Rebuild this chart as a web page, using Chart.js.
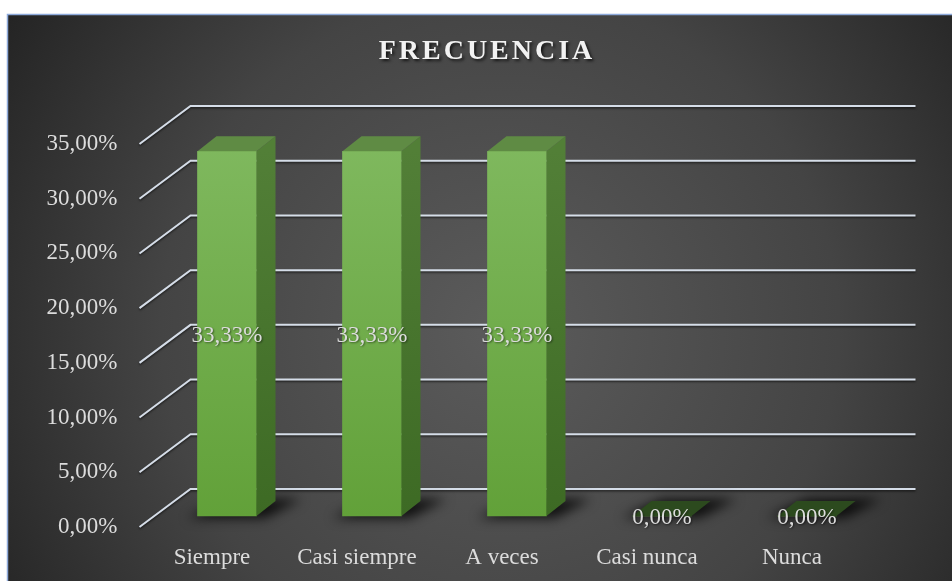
<!DOCTYPE html>
<html>
<head>
<meta charset="utf-8">
<script src="https://cdn.jsdelivr.net/npm/chart.js@4"></script>
<style>
  html, body { margin: 0; padding: 0; background: #ffffff; }
  #wrap { width: 952px; height: 581px; position: relative; }
</style>
</head>
<body>
<div id="wrap"><canvas id="c" width="952" height="581"></canvas></div>
<script>
const chartTitle = 'FRECUENCIA';
const categories = ['Siempre', 'Casi siempre', 'A veces', 'Casi nunca', 'Nunca'];
const frecuencia = [0.3333, 0.3333, 0.3333, 0, 0];
const dataLabels = ['33,33%', '33,33%', '33,33%', '0,00%', '0,00%'];
const tickLabels = ['0,00%', '5,00%', '10,00%', '15,00%', '20,00%', '25,00%', '30,00%', '35,00%'];

// 3D projection (style)
const WALL_DX = 51, WALL_DY = -38;   // front plane -> back wall
const BAR_SX = 15, BAR_SY = -11;     // front plane -> bar front face
const BAR_DX = 19, BAR_DY = -15;     // bar depth
const FONT = '"Liberation Serif", "Times New Roman", serif';

const bg3d = {
  id: 'bg3d',
  beforeDraw(chart) {
    const ctx = chart.ctx;
    ctx.save();
    ctx.fillStyle = '#ffffff';
    ctx.fillRect(0, 0, chart.width, chart.height);
    const g = ctx.createRadialGradient(500, 330, 20, 500, 330, 600);
    g.addColorStop(0, '#5a5a5a');
    g.addColorStop(0.55, '#444444');
    g.addColorStop(1, '#222222');
    ctx.fillStyle = g;
    ctx.fillRect(7, 14, chart.width - 7, chart.height - 14);
    ctx.strokeStyle = '#8eaadb';
    ctx.lineWidth = 1.5;
    ctx.beginPath();
    ctx.moveTo(7.5, chart.height);
    ctx.lineTo(7.5, 14.5);
    ctx.lineTo(chart.width, 14.5);
    ctx.stroke();
    ctx.restore();
  },
  beforeDatasetsDraw(chart) {
    const ctx = chart.ctx;
    const ys = chart.scales.y;
    const ca = chart.chartArea;
    ctx.save();
    ctx.strokeStyle = '#d5dde8';
    ctx.lineWidth = 2;
    ctx.shadowColor = 'rgba(0,0,0,0.55)';
    ctx.shadowOffsetY = 1.5;
    ctx.shadowBlur = 2;
    ys.ticks.forEach(t => {
      const y = ys.getPixelForValue(t.value);
      ctx.beginPath();
      ctx.moveTo(ca.left, y);
      ctx.lineTo(ca.left + WALL_DX, y + WALL_DY);
      ctx.lineTo(ca.right + WALL_DX, y + WALL_DY);
      ctx.stroke();
    });
    ctx.restore();
    const meta = chart.getDatasetMeta(0);
    ctx.save();
    ctx.filter = 'blur(6px)';
    ctx.fillStyle = 'rgba(0,0,0,0.8)';
    meta.data.forEach(bar => {
      const x0 = bar.x - bar.width / 2 + BAR_SX;
      const x1 = bar.x + bar.width / 2 + BAR_SX;
      const b = bar.base + BAR_SY;
      ctx.beginPath();
      ctx.moveTo(x0 - 10, b + 2);
      ctx.lineTo(x1 + 8, b + 2);
      ctx.lineTo(x1 + BAR_DX + 26, b + BAR_DY - 2);
      ctx.lineTo(x0 + BAR_DX + 10, b + BAR_DY - 2);
      ctx.closePath();
      ctx.fill();
    });
    ctx.restore();
    ctx.save();
    ctx.translate(BAR_SX, BAR_SY);
  },
  afterDatasetsDraw(chart) {
    const ctx = chart.ctx;
    const meta = chart.getDatasetMeta(0);
    meta.data.forEach((bar, i) => {
      const x0 = bar.x - bar.width / 2;
      const x1 = bar.x + bar.width / 2;
      const top = bar.y, base = bar.base;
      const isZero = frecuencia[i] === 0;
      if (!isZero) {
        const gs = ctx.createLinearGradient(0, top, 0, base);
        gs.addColorStop(0, '#527f37');
        gs.addColorStop(1, '#3d6a24');
        ctx.fillStyle = gs;
        ctx.beginPath();
        ctx.moveTo(x1, top);
        ctx.lineTo(x1 + BAR_DX, top + BAR_DY);
        ctx.lineTo(x1 + BAR_DX, base + BAR_DY);
        ctx.lineTo(x1, base);
        ctx.closePath();
        ctx.fill();
      }
      ctx.fillStyle = isZero ? '#2c4a1e' : '#5f8b44';
      ctx.beginPath();
      ctx.moveTo(x0, top);
      ctx.lineTo(x1, top);
      ctx.lineTo(x1 + BAR_DX, top + BAR_DY);
      ctx.lineTo(x0 + BAR_DX, top + BAR_DY);
      ctx.closePath();
      ctx.fill();
    });
    ctx.save();
    ctx.font = '23px ' + FONT;
    ctx.fillStyle = '#dcdcdc';
    ctx.textAlign = 'center';
    ctx.textBaseline = 'middle';
    ctx.shadowColor = 'rgba(0,0,0,0.5)';
    ctx.shadowOffsetX = 1;
    ctx.shadowOffsetY = 1;
    ctx.shadowBlur = 2;
    meta.data.forEach((bar, i) => {
      ctx.fillText(dataLabels[i], bar.x, (bar.y + bar.base) / 2 + 2);
    });
    ctx.restore();
    ctx.restore();
  },
  afterDraw(chart) {
    const ctx = chart.ctx;
    ctx.save();
    ctx.font = 'bold 28px ' + FONT;
    ctx.letterSpacing = '3px';
    ctx.fillStyle = '#f2f2f2';
    ctx.textAlign = 'center';
    ctx.textBaseline = 'middle';
    ctx.shadowColor = 'rgba(0,0,0,0.7)';
    ctx.shadowOffsetX = 2;
    ctx.shadowOffsetY = 2;
    ctx.shadowBlur = 3;
    ctx.fillText(chartTitle, 487, 52);
    ctx.restore();
  }
};

new Chart(document.getElementById('c'), {
  type: 'bar',
  data: {
    labels: categories,
    datasets: [{
      data: frecuencia,
      barThickness: 59,
      clip: false,
      borderWidth: 0,
      backgroundColor: (c) => {
        const ca = c.chart.chartArea;
        if (!ca) return '#70ad47';
        const g = c.chart.ctx.createLinearGradient(0, ca.top, 0, ca.bottom);
        g.addColorStop(0, '#80b95f');
        g.addColorStop(1, '#62a139');
        return g;
      }
    }]
  },
  options: {
    responsive: false,
    animation: false,
    layout: { padding: { left: 7, right: 87.5, top: 144, bottom: 0 } },
    plugins: {
      legend: { display: false },
      title: { display: false },
      tooltip: { enabled: false }
    },
    scales: {
      x: {
        grid: { display: false, drawTicks: false },
        border: { display: false },
        ticks: { color: '#dcdcdc', font: { family: FONT, size: 23 }, padding: 17, maxRotation: 0 },
        afterFit: (s) => { s.height = 54; }
      },
      y: {
        min: 0,
        max: 0.35,
        grid: { display: false, drawTicks: false },
        border: { display: false },
        ticks: {
          stepSize: 0.05,
          color: '#dcdcdc',
          font: { family: FONT, size: 23 },
          padding: 22,
          callback: (v, i) => tickLabels[i]
        },
        afterFit: (s) => { s.width = 132.5; }
      }
    }
  },
  plugins: [bg3d]
});
</script>
</body>
</html>
